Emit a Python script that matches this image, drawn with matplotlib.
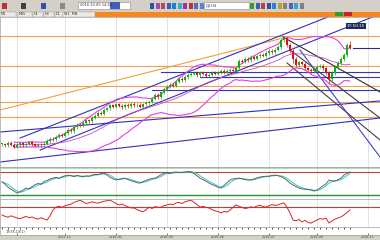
import numpy as np
import pandas as pd
import matplotlib
matplotlib.use("Agg")
import matplotlib.pyplot as plt

# Cierres por barra
cierres = [15820, 15790, 15850, 15810, 15760, 15800, 15840, 15790, 15830, 15870, 15820, 15780, 15810, 15790, 15830,
           15900, 15960, 15940, 16010, 16060, 16030,
           16100, 16180, 16150, 16240, 16300,
           16280, 16350, 16420, 16400, 16480,
           16530, 16600, 16580, 16680, 16720,
           16790, 16760, 16820, 16780, 16740, 16800, 16770, 16830, 16790, 16810, 16760, 16820, 16850,
           16880, 16960, 17050, 17000, 17120, 17200, 17260,
           17300, 17280, 17380, 17450, 17420, 17500, 17560,
           17580, 17600, 17540, 17620, 17580, 17530, 17560, 17600, 17580, 17620, 17650, 17610, 17660,
           17680, 17650, 17720, 17900,
           17880, 17950, 17920, 18000, 17960, 18020, 18060, 18030, 18100, 18150, 18120, 18180,
           18250, 18420, 18470,
           18300, 18150, 17950, 17800, 17870, 17830,
           17720, 17680, 17640, 17700, 17760, 17780,
           17720, 17600, 17450,
           17600, 17750, 17850, 17950, 18050, 18300, 18230]
minimos_especiales = {109: 17350, 97: 17850}
maximos_especiales = {116: 18400, 94: 18520}

# Oscilador estocastico
estocastico = [54, 48, 40, 35, 30, 25,
               28, 33, 38, 36, 42, 47, 50, 48, 55, 58, 62, 64,
               66, 63, 68, 70, 72,
               70, 68, 71, 69, 67, 70, 69,
               72, 74, 73, 76, 77,
               72, 66, 62, 59, 61, 63, 64,
               60, 57, 55, 52, 51,
               55, 58, 61, 63, 64, 68, 73, 77,
               78, 76, 79, 80, 78, 79, 80, 81, 80,
               76, 70, 64, 60, 56, 51, 47, 44, 40, 38,
               45, 52, 59, 62, 63, 64, 62, 60, 59,
               59, 62, 65, 67, 68, 69, 69, 71, 72, 70, 68,
               64, 58, 51, 46, 42, 38, 36, 35, 34, 33,
               30, 33, 38, 44, 49, 59, 57, 56, 60, 64, 72, 76, 80]

# Segundo indicador (rojo)
indicador2 = [43, 38, 35, 40, 36, 32,
              30, 34, 38, 33, 36,
              31, 28, 33, 29, 25, 40,
              61, 71, 74, 70, 76, 79,
              82, 88, 92, 96, 90, 84, 86,
              90, 87, 85, 89, 92, 94, 96,
              90, 84, 79, 82, 76, 72, 68,
              68, 62, 58, 54, 62, 71,
              66, 73, 70, 71, 76, 79, 82, 80, 86,
              88, 84, 90, 93, 96, 88, 80,
              71, 74, 70, 68, 62, 58, 55, 50,
              56, 53, 61, 70, 79, 74, 70, 66,
              68, 72, 70, 75, 78, 73, 71, 76, 80, 77, 79, 83,
              86, 70, 50, 25, 22, 27,
              18, 24, 16, 14, 20, 25, 30, 28, 32,
              14, 22, 28, 32, 36, 43, 52, 61]

# Niveles horizontales
niveles_naranja = [18525, 17775, 17275, 16875, 16500]
niveles_azul = [(17625, 53), (17500, 66), (17175, 50)]
precio_actual = 18230

# Lineas de tendencia: (x0, p0, x1, p1, color)
tendencias = [
    (-0.7, 16675, 93.7, 18475, '#f0a040'),
    (6, 15975, 110.3, 19050, '#3030c0'),
    (12.7, 15675, 126, 19075, '#3030c0'),
    (93.7, 18500, 126, 17125, '#303030'),
    (96, 18175, 126, 16475, '#404040'),
    (95, 17850, 126, 15925, '#404040'),
    (99.3, 18175, 126, 15500, '#4040d0'),
    (-0.7, 15375, 126, 16475, '#3030c0'),
    (-0.7, 16125, 126, 16900, '#3030c0'),
]

fechas_pos = [5, 21, 38, 55, 72, 89, 105, 122]
fechas_txt = ['', '2015.11', '2016.01', '2016.03', '2016.05', '2016.07', '2016.09', '2016.11']

fig = plt.figure(figsize=(3.8, 2.4), dpi=100)
fig.patch.set_facecolor('#d4d0c8')


def pax(x0, y0, x1, y1):
    return fig.add_axes([x0 / 380, 1 - y1 / 240, (x1 - x0) / 380, (y1 - y0) / 240])


# Barra de herramientas
tb = pax(0, 0, 380, 11)
tb.set_facecolor('#e4e2dc')
tb.set_xlim(0, 380)
tb.set_ylim(0, 11)
tb.axis('off')
iconos_izq = ['#c03030', '#404040', '#3050b0', '#888888']
iconos_med = ['#3050b0', '#a050a0', '#c04060', '#3060c0', '#2080c0', '#30b0d0', '#a030a0',
              '#c03030', '#5070c0', '#6080d0', '#40a0e0', '#3070d0', '#c0a030', '#808080',
              '#30a0a0', '#3070c0', '#5050a0', '#40a0d0', '#30a030', '#4060c0', '#c04040',
              '#3050b0', '#3080d0', '#c0a030', '#808080', '#5060c0', '#40a0d0', '#808080']
for xi, c in zip(np.linspace(2, 60, len(iconos_izq)), iconos_izq):
    tb.add_patch(plt.Rectangle((xi, 2.5), 5, 6, color=c, lw=0))
for xi, c in zip(np.linspace(150, 300, len(iconos_med)), iconos_med):
    tb.add_patch(plt.Rectangle((xi, 2.5), 4, 6, color=c, lw=0))
tb.add_patch(plt.Rectangle((78, 2), 52, 7, facecolor='white', edgecolor='#888888', lw=0.4))
tb.text(80, 5.5, '2016.10.05 14:52', fontsize=2.6, va='center', color='#333333')
tb.add_patch(plt.Rectangle((110, 2), 10, 7, color='#4060c0', lw=0))
tb.add_patch(plt.Rectangle((204, 2), 45, 7, facecolor='white', edgecolor='#888888', lw=0.4))
tb.text(206, 5.5, 'DJI,H4', fontsize=2.6, va='center', color='#333333')

# Fila de pestañas
tab = pax(0, 11, 380, 17)
tab.set_facecolor('#d4d0c8')
tab.set_xlim(0, 380)
tab.set_ylim(0, 6)
tab.axis('off')
tab.add_patch(plt.Rectangle((95, 0.5), 285, 5, color='#f7861c', lw=0))
for xi, w, t in [(0, 16, 'M1'), (18, 14, 'M15'), (33, 10, 'H1'), (44, 10, 'H4'), (55, 8, 'D1'), (63, 32, 'W1  MN')]:
    tab.add_patch(plt.Rectangle((xi, 0.5), w, 5, facecolor='#ece9e2', edgecolor='#999999', lw=0.3))
    tab.text(xi + 1, 3, t, fontsize=2.4, va='center', color='#333333')
tab.add_patch(plt.Rectangle((335, 1), 8, 4, color='#2a9d2a', lw=0))
tab.add_patch(plt.Rectangle((344, 1), 8, 4, color='#d02020', lw=0))

# Grafico principal
ax = pax(0, 17, 380, 167)
ax.set_facecolor('white')
ax.set_xlim(-0.7, 126)
ax.set_ylim(15250, 19000)
ax.set_xticks([])
ax.set_yticks([])
for s in ax.spines.values():
    s.set_color('#a0a0a0')
    s.set_linewidth(0.5)
for xp in fechas_pos:
    ax.axvline(xp, color='#d8d8d8', lw=0.5, zorder=0)

for p in niveles_naranja:
    ax.axhline(p, color='#f5a050', lw=0.8, zorder=1)
for p, x0 in niveles_azul:
    ax.plot([x0, 126], [p, p], color='#3535b5', lw=0.8, zorder=1)
for x0, p0, x1, p1, c in tendencias:
    ax.plot([x0, x1], [p0, p1], color=c, lw=0.8, zorder=2)

cierre = pd.Series(cierres, dtype=float)
apertura = cierre.shift(1).fillna(cierre.iloc[0])
media = cierre.rolling(20, min_periods=5).mean()
desv = cierre.rolling(20, min_periods=5).std()
idx = np.arange(len(cierre))
ax.plot(idx, media + 2 * desv, color='#e040e0', lw=0.8, zorder=3)
ax.plot(idx, media - 2 * desv, color='#e040e0', lw=0.8, zorder=3)
ax.plot(idx, media, color='#c050c0', lw=0.6, zorder=3)

altos = np.maximum(apertura, cierre) + 40
bajos = np.minimum(apertura, cierre) - 40
for k, v in minimos_especiales.items():
    bajos[k] = v
for k, v in maximos_especiales.items():
    altos[k] = v
colores = np.where(cierre >= apertura, '#10b010', '#e01010')
ax.vlines(idx, bajos, altos, colors=colores, lw=0.5, zorder=4)
ax.bar(idx, (cierre - apertura).abs().clip(lower=20), bottom=np.minimum(apertura, cierre),
       width=0.75, color=colores, zorder=5)

ax.plot([len(cierre), 126], [precio_actual, precio_actual], color='#2a2a8a', lw=0.8, zorder=3)
ax.text(118.0, 18775, '17:50:15', fontsize=3, color='white', ha='center', va='center',
        bbox=dict(boxstyle='square,pad=0.25', fc='#1a2a5a', ec='none'), zorder=6)

# Oscilador 1
ax2 = pax(0, 168, 380, 199)
ax2.set_xlim(-0.7, 126)
ax2.set_ylim(9.5, 90.4)
ax2.set_xticks([])
ax2.set_yticks([])
for s in ax2.spines.values():
    s.set_color('#a0a0a0')
    s.set_linewidth(0.5)
ax2.spines['top'].set_color('#90d090')
for xp in fechas_pos:
    ax2.axvline(xp, color='#d8d8d8', lw=0.5, zorder=0)
ax2.axhline(80, color='#c04040', lw=0.8)
ax2.axhline(20, color='#309030', lw=1.0)
est = pd.Series(estocastico, dtype=float)
ax2.plot(idx, est.rolling(3, min_periods=1).mean(), color='#40d0d0', lw=0.8)
ax2.plot(idx, est, color='#505050', lw=0.6)

# Oscilador 2
ax3 = pax(0, 199, 380, 227)
ax3.set_xlim(-0.7, 126)
ax3.set_ylim(0, 100)
ax3.set_xticks([])
ax3.set_yticks([])
for s in ax3.spines.values():
    s.set_color('#a0a0a0')
    s.set_linewidth(0.5)
for xp in fechas_pos:
    ax3.axvline(xp, color='#d8d8d8', lw=0.5, zorder=0)
ax3.axhline(70, color='#c04040', lw=0.8)
ax3.plot(idx, indicador2, color='#e02020', lw=0.7)

# Eje de fechas
ax4 = pax(0, 227, 380, 235)
ax4.set_facecolor('white')
ax4.set_xlim(-0.7, 126)
ax4.set_ylim(0, 1)
ax4.set_yticks([])
ax4.set_xticks(fechas_pos)
ax4.set_xticklabels(fechas_txt, fontsize=2.4, color='#333333')
ax4.tick_params(axis='x', length=1.5, width=0.4, pad=0.3, direction='in')
ax4.vlines(np.arange(0, 117, 2), 0.75, 1, color='#333333', lw=0.6)
ax4.text(1, 0.35, '17/38.13(1)', fontsize=2.4, color='#333333', va='center')
for s in ax4.spines.values():
    s.set_color('#a0a0a0')
    s.set_linewidth(0.5)

fig.savefig('out.png', dpi=100)
